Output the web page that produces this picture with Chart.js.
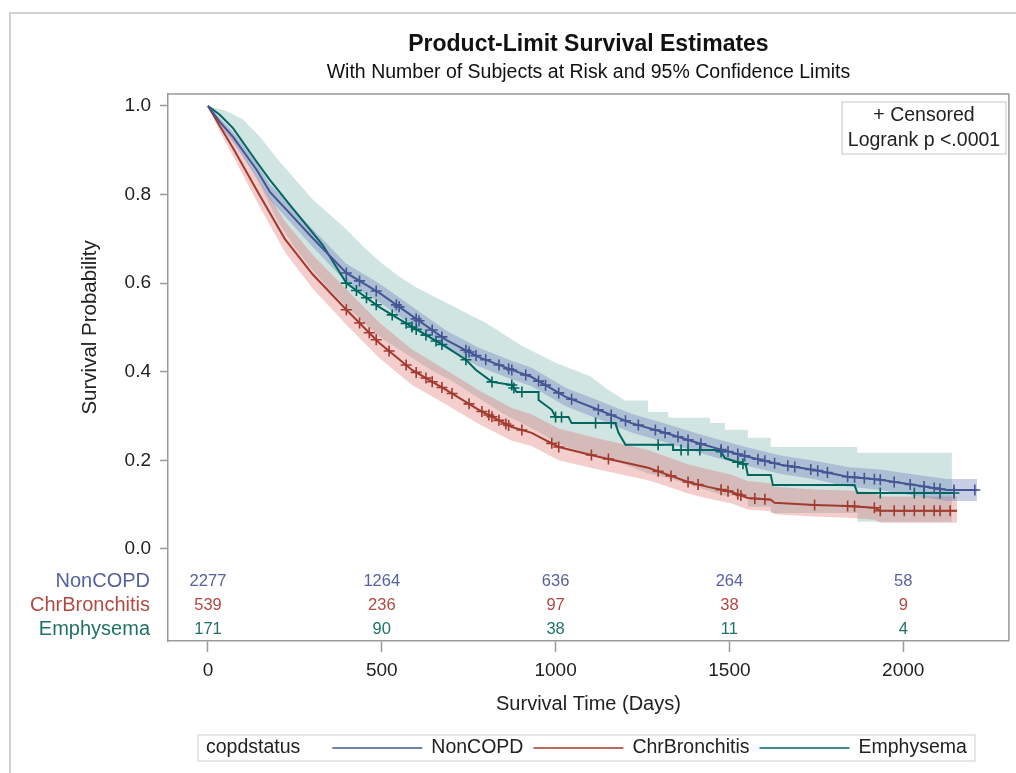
<!DOCTYPE html>
<html>
<head>
<meta charset="utf-8">
<script src="https://cdn.jsdelivr.net/npm/chart.js@4.4.0/dist/chart.umd.min.js"></script>
<style>
  html, body { margin: 0; padding: 0; background: #fff; }
</style>
</head>
<body>
<canvas id="myChart" width="1016" height="773"></canvas>
<script>
// ---- data ----
const groups = ["NonCOPD", "ChrBronchitis", "Emphysema"];

const nonCopdTime = [0, 34, 72, 140, 178, 235, 301, 398, 493, 587, 685, 779, 874, 931, 1029, 1123, 1218, 1315, 1410, 1458, 1553, 1648, 1745, 1840, 1934, 2032, 2126, 2212];
const nonCopdSurv = [1.000, 0.964, 0.930, 0.856, 0.806, 0.758, 0.702, 0.623, 0.578, 0.526, 0.472, 0.433, 0.404, 0.388, 0.343, 0.314, 0.284, 0.262, 0.239, 0.228, 0.208, 0.190, 0.178, 0.163, 0.156, 0.144, 0.133, 0.133];
const nonCopdUpper = [1.000, 0.972, 0.942, 0.872, 0.824, 0.777, 0.722, 0.644, 0.599, 0.547, 0.493, 0.454, 0.425, 0.409, 0.364, 0.335, 0.305, 0.283, 0.260, 0.249, 0.229, 0.211, 0.199, 0.185, 0.179, 0.168, 0.158, 0.158];
const nonCopdLower = [1.000, 0.956, 0.918, 0.840, 0.788, 0.739, 0.682, 0.602, 0.557, 0.505, 0.451, 0.412, 0.383, 0.367, 0.322, 0.293, 0.263, 0.241, 0.218, 0.207, 0.187, 0.169, 0.157, 0.141, 0.133, 0.120, 0.108, 0.108];

const chrTime = [0, 34, 72, 140, 221, 301, 398, 493, 587, 685, 779, 874, 931, 1009, 1123, 1266, 1324, 1381, 1438, 1504, 1553, 1619, 1630, 1745, 1840, 1917, 1934, 2155];
const chrSurv = [1.000, 0.955, 0.905, 0.810, 0.700, 0.620, 0.540, 0.465, 0.404, 0.359, 0.314, 0.275, 0.262, 0.230, 0.208, 0.183, 0.167, 0.151, 0.140, 0.129, 0.115, 0.111, 0.104, 0.099, 0.097, 0.093, 0.086, 0.086];
const chrUpper = [1.000, 0.970, 0.927, 0.842, 0.740, 0.664, 0.586, 0.511, 0.450, 0.404, 0.358, 0.318, 0.304, 0.272, 0.249, 0.223, 0.207, 0.191, 0.180, 0.168, 0.153, 0.148, 0.140, 0.134, 0.132, 0.127, 0.118, 0.118];
const chrLower = [1.000, 0.943, 0.887, 0.785, 0.670, 0.588, 0.506, 0.431, 0.370, 0.326, 0.282, 0.244, 0.232, 0.200, 0.179, 0.155, 0.140, 0.125, 0.114, 0.103, 0.089, 0.085, 0.078, 0.073, 0.070, 0.066, 0.059, 0.059];

const emphTime = [0, 34, 72, 140, 178, 235, 330, 398, 493, 587, 685, 742, 771, 817, 874, 888, 951, 951, 989, 1000, 1037, 1046, 1172, 1181, 1201, 1338, 1338, 1473, 1487, 1547, 1553, 1619, 1625, 1860, 1868, 2146];
const emphSurv = [1.000, 0.980, 0.950, 0.874, 0.833, 0.777, 0.686, 0.600, 0.546, 0.501, 0.456, 0.427, 0.404, 0.377, 0.370, 0.354, 0.354, 0.336, 0.314, 0.298, 0.298, 0.284, 0.284, 0.262, 0.235, 0.235, 0.223, 0.223, 0.205, 0.190, 0.167, 0.167, 0.144, 0.144, 0.126, 0.126];
const emphUpperTime = [0, 50, 100, 150, 200, 250, 300, 350, 400, 450, 500, 550, 600, 650, 700, 750, 800, 850, 900, 950, 1000, 1050, 1100, 1150, 1200, 1266, 1266, 1324, 1324, 1444, 1444, 1487, 1487, 1553, 1553, 1619, 1619, 1868, 1868, 2140];
const emphUpper = [1.000, 0.990, 0.970, 0.930, 0.880, 0.835, 0.790, 0.755, 0.720, 0.680, 0.645, 0.615, 0.590, 0.570, 0.550, 0.530, 0.510, 0.485, 0.460, 0.440, 0.420, 0.405, 0.390, 0.360, 0.335, 0.335, 0.309, 0.309, 0.296, 0.296, 0.284, 0.284, 0.269, 0.269, 0.251, 0.251, 0.230, 0.230, 0.217, 0.217];
const emphLowerTime = [0, 50, 100, 150, 200, 250, 300, 350, 400, 450, 500, 550, 600, 650, 700, 750, 800, 850, 900, 950, 1000, 1050, 1100, 1150, 1200, 1266, 1324, 1444, 1487, 1553, 1553, 1619, 1619, 1868, 1868, 2140];
const emphLower = [1.000, 0.950, 0.890, 0.820, 0.740, 0.680, 0.630, 0.585, 0.545, 0.510, 0.475, 0.450, 0.425, 0.400, 0.380, 0.355, 0.330, 0.305, 0.285, 0.265, 0.240, 0.225, 0.215, 0.205, 0.190, 0.170, 0.160, 0.130, 0.120, 0.120, 0.095, 0.095, 0.081, 0.081, 0.061, 0.061];

// censored observation times
const nonCopdCensor = [398, 436, 484, 542, 550, 599, 607, 645, 673, 742, 751, 771, 799, 837, 865, 874, 914, 951, 971, 1009, 1046, 1123, 1160, 1201, 1238, 1287, 1315, 1352, 1381, 1418, 1476, 1496, 1524, 1544, 1582, 1602, 1630, 1668, 1688, 1734, 1754, 1782, 1840, 1860, 1888, 1917, 1934, 1974, 2020, 2060, 2089, 2106, 2146, 2206];
const chrCensor = [398, 436, 464, 484, 521, 570, 599, 627, 645, 673, 702, 751, 788, 808, 817, 837, 857, 865, 903, 989, 1009, 1103, 1152, 1295, 1332, 1381, 1410, 1476, 1496, 1524, 1533, 1573, 1602, 1745, 1840, 1860, 1917, 1934, 1974, 2003, 2032, 2060, 2089, 2106, 2135];
const emphCensor = [398, 427, 456, 484, 530, 570, 587, 599, 627, 656, 673, 742, 817, 874, 880, 903, 1000, 1017, 1115, 1160, 1295, 1361, 1381, 1415, 1476, 1524, 1539, 1934, 2032, 2060, 2106, 2146];

// number at risk table
const riskTimes = [0, 500, 1000, 1500, 2000];
const riskNonCopd = [2277, 1264, 636, 264, 58];
const riskChr = [539, 236, 97, 38, 9];
const riskEmph = [171, 90, 38, 11, 4];

const xTicks = [0, 500, 1000, 1500, 2000];
const yTicks = [0, 0.2, 0.4, 0.6, 0.8, 1.0];

// ---- styling ----
const FONT = "'Liberation Sans', Arial, sans-serif";
const lineColors = ["#445694", "#A23A2E", "#01665E"];
const bandColors = ["rgba(111,126,190,0.38)", "rgba(220,100,100,0.32)", "rgba(100,170,160,0.30)"];
const textColors = ["#5662a0", "#b04a44", "#1f7268"];

function pts(times, vals) {
  return times.map((t, i) => ({ x: t, y: vals[i] }));
}

// place a censor mark on the drawn curve
function curveAt(times, vals, t) {
  for (let i = 0; i < times.length - 1; i++) {
    if (t >= times[i] && t <= times[i + 1]) {
      const span = times[i + 1] - times[i];
      if (span === 0) return vals[i + 1];
      return vals[i] + (vals[i + 1] - vals[i]) * (t - times[i]) / span;
    }
  }
  return vals[vals.length - 1];
}

function markSet(times, vals, censor, color) {
  return {
    data: censor.map(t => ({ x: t, y: curveAt(times, vals, t) })),
    showLine: false,
    pointStyle: "cross",
    pointRadius: 5.5,
    pointBorderWidth: 1.6,
    pointBorderColor: color,
    pointBackgroundColor: color,
    order: 1,
  };
}

function lineSet(times, vals, color) {
  return {
    data: pts(times, vals),
    borderColor: color,
    borderWidth: 2,
    pointRadius: 0,
    tension: 0,
    fill: false,
    order: 2,
  };
}

function bandSet(times, vals, color, fill) {
  return {
    data: pts(times, vals),
    borderWidth: 0,
    borderColor: "rgba(0,0,0,0)",
    backgroundColor: color,
    pointRadius: 0,
    tension: 0,
    fill: fill,
    order: 3,
  };
}

const datasets = [
  markSet(nonCopdTime, nonCopdSurv, nonCopdCensor, lineColors[0]),
  markSet(chrTime, chrSurv, chrCensor, lineColors[1]),
  markSet(emphTime, emphSurv, emphCensor, lineColors[2]),
  lineSet(nonCopdTime, nonCopdSurv, lineColors[0]),
  lineSet(chrTime, chrSurv, lineColors[1]),
  lineSet(emphTime, emphSurv, lineColors[2]),
  bandSet(nonCopdTime, nonCopdUpper, bandColors[0], "+1"),
  bandSet(nonCopdTime, nonCopdLower, bandColors[0], false),
  bandSet(chrTime, chrUpper, bandColors[1], "+1"),
  bandSet(chrTime, chrLower, bandColors[1], false),
  bandSet(emphUpperTime, emphUpper, bandColors[2], "+1"),
  bandSet(emphLowerTime, emphLower, bandColors[2], false),
];

const extras = {
  id: "extras",
  afterDraw(chart) {
    const ctx = chart.ctx;
    const a = chart.chartArea;
    const xs = chart.scales.x;
    const ys = chart.scales.y;
    ctx.save();

    // outer graph border
    ctx.strokeStyle = "#d0d0d0";
    ctx.lineWidth = 2;
    ctx.strokeRect(10, 13, 1020, 800);

    // top and right side of the frame
    ctx.strokeStyle = "#9a9a9a";
    ctx.lineWidth = 1.5;
    ctx.beginPath();
    ctx.moveTo(a.left, a.top);
    ctx.lineTo(a.right, a.top);
    ctx.lineTo(a.right, a.bottom);
    ctx.stroke();

    // titles
    const cx = (a.left + a.right) / 2;
    ctx.fillStyle = "#111";
    ctx.textAlign = "center";
    ctx.textBaseline = "middle";
    ctx.font = "bold 23px " + FONT;
    ctx.fillText("Product-Limit Survival Estimates", cx, 45);
    ctx.font = "19.5px " + FONT;
    ctx.fillText("With Number of Subjects at Risk and 95% Confidence Limits", cx, 73);

    // y axis title, centred on 0..1
    const ymid = (ys.getPixelForValue(0) + ys.getPixelForValue(1)) / 2;
    ctx.save();
    ctx.translate(90, ymid);
    ctx.rotate(-Math.PI / 2);
    ctx.font = "20.5px " + FONT;
    ctx.fillStyle = "#222";
    ctx.fillText("Survival Probability", 0, 0);
    ctx.restore();

    // censored / logrank box
    ctx.strokeStyle = "#c4c4c4";
    ctx.lineWidth = 1;
    ctx.strokeRect(842, 102, 164, 52);
    ctx.fillStyle = "#222";
    ctx.font = "19.5px " + FONT;
    ctx.fillText("+ Censored", 924, 116);
    ctx.fillText("Logrank p <.0001", 924, 141);

    // at risk table
    const rows = [riskNonCopd, riskChr, riskEmph];
    const base = ys.getPixelForValue(0);
    const rowY = [base + 33, base + 57, base + 81];
    rows.forEach((row, r) => {
      ctx.fillStyle = textColors[r];
      ctx.textAlign = "right";
      ctx.font = "20px " + FONT;
      ctx.fillText(groups[r], 150, rowY[r]);
      ctx.textAlign = "center";
      ctx.font = "16.5px " + FONT;
      row.forEach((n, i) => {
        ctx.fillText(String(n), xs.getPixelForValue(riskTimes[i]), rowY[r]);
      });
    });

    // legend
    const ly = 748;
    ctx.strokeStyle = "#cfcfcf";
    ctx.lineWidth = 1;
    ctx.strokeRect(198, 735, 777, 26);
    ctx.font = "19.5px " + FONT;
    ctx.textAlign = "left";
    ctx.fillStyle = "#222";
    let x = 206;
    ctx.fillText("copdstatus", x, ly);
    x += ctx.measureText("copdstatus").width + 32;
    groups.forEach((g, i) => {
      ctx.strokeStyle = lineColors[i];
      ctx.lineWidth = 1.5;
      ctx.beginPath();
      ctx.moveTo(x, ly);
      ctx.lineTo(x + 90, ly);
      ctx.stroke();
      x += 99;
      ctx.fillStyle = "#222";
      ctx.fillText(g, x, ly);
      x += ctx.measureText(g).width + 10;
    });

    ctx.restore();
  },
};

const ctx = document.getElementById("myChart").getContext("2d");
const myChart = new Chart(ctx, {
  type: "line",
  data: { datasets: datasets },
  options: {
    responsive: false,
    animation: false,
    layout: { padding: { left: 10, top: 94, right: 4, bottom: 55 } },
    plugins: {
      legend: { display: false },
      title: { display: false },
      tooltip: { enabled: false },
    },
    scales: {
      x: {
        type: "linear",
        min: -115,
        max: 2304,
        afterBuildTicks: (s) => { s.ticks = xTicks.map(v => ({ value: v })); },
        afterFit: (s) => { s.height = 77; },
        grid: { drawOnChartArea: false, drawTicks: true, tickLength: 11, color: "#9a9a9a", tickWidth: 1.5 },
        border: { display: true, color: "#9a9a9a", width: 1.5 },
        ticks: { font: { family: FONT, size: 19 }, color: "#222", padding: 7, maxRotation: 0, autoSkip: false, callback: (v) => String(v) },
        title: { display: true, text: "Survival Time (Days)", font: { family: FONT, size: 20 }, color: "#222", padding: { top: 0, bottom: 2 } },
      },
      y: {
        min: -0.208,
        max: 1.027,
        afterBuildTicks: (s) => { s.ticks = yTicks.map(v => ({ value: v })); },
        afterFit: (s) => { s.width = 158; },
        grid: { drawOnChartArea: false, drawTicks: true, tickLength: 8, color: "#9a9a9a", tickWidth: 1.5 },
        border: { display: true, color: "#9a9a9a", width: 1.5 },
        ticks: { font: { family: FONT, size: 19 }, color: "#222", padding: 9, callback: (v) => Number(v).toFixed(1) },
      },
    },
  },
  plugins: [extras],
});
</script>
</body>
</html>
